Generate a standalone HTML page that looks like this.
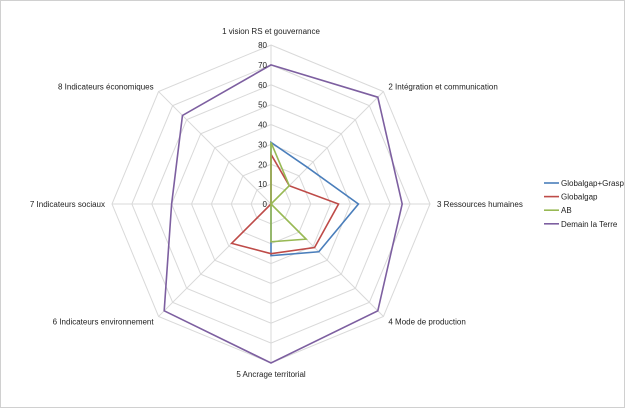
<!DOCTYPE html>
<html><head><meta charset="utf-8"><style>
body{margin:0;background:#fff}
svg text{font-family:"Liberation Sans",sans-serif;font-size:8px;fill:#222}
</style></head><body>
<svg width="626" height="409">
<rect x="0.5" y="0.5" width="624" height="407" fill="#fff" stroke="#d0d0d0"/>
<g id="grid"></g><g id="series"></g><g id="labels"></g>
<g id="legend"></g>
</svg>
<script>
const categories=["1 vision RS et gouvernance","2 Intégration et communication","3 Ressources humaines","4 Mode de production","5 Ancrage territorial","6 Indicateurs environnement","7 Indicateurs sociaux","8 Indicateurs économiques"];
const seriesNames=["Globalgap+Grasp","Globalgap","AB","Demain la Terre"];
const seriesColors=["#4a7ebb","#be4b48","#98b954","#7d5fa0"];
const blueVals=[31,26,44,34,26,0,0,0];
const redVals=[25,13,34,31,25,28,0,0];
const greenVals=[31,13,0,25,19,0,0,0];
const purpleVals=[70,76,66,76,80,76,50,63];
const tickLabels=[0,10,20,30,40,50,60,70,80];
const allVals=[blueVals,redVals,greenVals,purpleVals];
const NS="http://www.w3.org/2000/svg";
const cx=271,cy=204,R=159,maxV=80;
function pt(i,v){const a=-Math.PI/2+i*2*Math.PI/categories.length;const r=v/maxV*R;return [cx+r*Math.cos(a),cy+r*Math.sin(a)];}
function mk(tag,attrs,parent){const e=document.createElementNS(NS,tag);for(const k in attrs)e.setAttribute(k,attrs[k]);parent.appendChild(e);return e;}
const grid=document.getElementById('grid');
tickLabels.forEach(t=>{if(t===0)return;const p=categories.map((c,i)=>pt(i,t).join(',')).join(' ');
 const e=mk('polygon',{points:p,fill:'none',stroke:'#d9d9d9','stroke-width':1},grid);
 
 });
categories.forEach((c,i)=>{const [x,y]=pt(i,maxV);const e=mk('line',{x1:cx,y1:cy,x2:x,y2:y,stroke:'#d9d9d9'},grid);
 
 });
const lab=document.getElementById('labels');
tickLabels.forEach(t=>{const e=mk('text',{x:cx-4,y:cy-t/maxV*R+3,'text-anchor':'end'},lab);e.textContent=t;
 
 });
const anchors=['middle','start','start','start','middle','end','end','end'];
const labelR=maxV*166/159;
categories.forEach((c,i)=>{let [x,y]=pt(i,labelR);
 if(i===0)y-=4; else if(i===4)y+=7; else y+=3;
 const e=mk('text',{x:x,y:y,'text-anchor':anchors[i]},lab);e.textContent=c;
 
 });
const sg=document.getElementById('series');
allVals.forEach((vals,s)=>{const p=vals.map((v,i)=>pt(i,v).join(',')).join(' ');
 const e=mk('polygon',{points:p,fill:'none',stroke:seriesColors[s],'stroke-width':1.6},sg);
 
 });
const lg=document.getElementById('legend');
seriesNames.forEach((n,s)=>{const y=183+s*13.6;
 const l=mk('line',{x1:544,y1:y,x2:559,y2:y,stroke:seriesColors[s],'stroke-width':1.6},lg);
 
 
 const t=mk('text',{x:561,y:y+3},lg);t.textContent=n;
 
 });
</script>
</body></html>
